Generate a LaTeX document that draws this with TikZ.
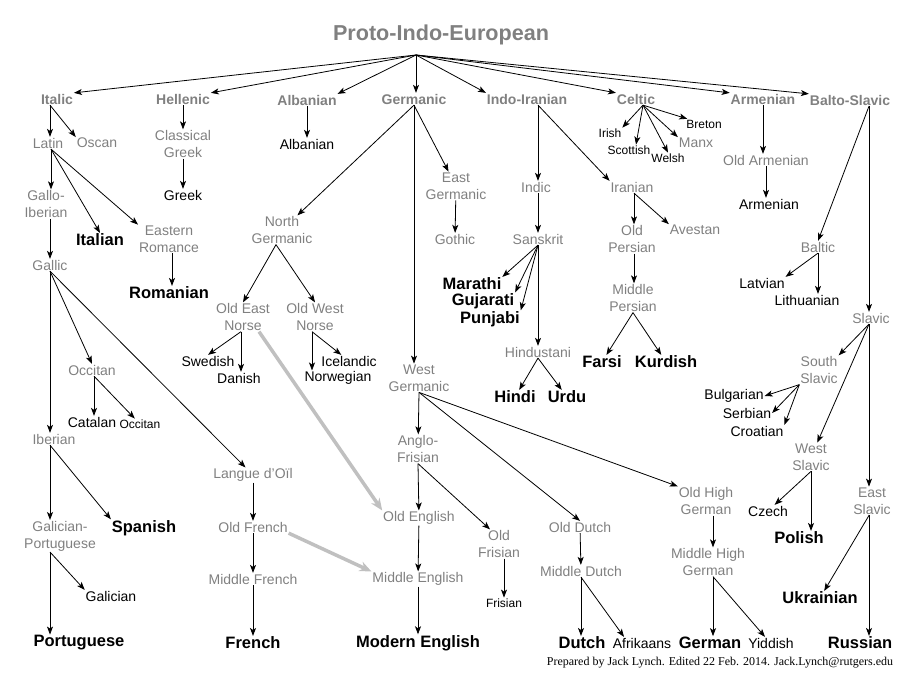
\documentclass[tikz,border=0pt]{standalone}
\usepackage{fontspec}
\setmainfont{Liberation Sans}
\newfontfamily\notefont{Liberation Serif}
\usetikzlibrary{arrows.meta}
\definecolor{branchgray}{RGB}{128,128,128}
\definecolor{loangray}{RGB}{192,192,192}

\begin{document}
\begin{tikzpicture}[x=1pt, y=-1pt, line width=0.8pt,
    >={Stealth[length=8pt,width=6pt,inset=2pt]},
    every node/.style={inner sep=1pt, outer sep=0pt, align=center},
    rootlbl/.style={text=branchgray, font=\fontsize{21.6}{26}\selectfont\bfseries},
    famlbl/.style={text=branchgray, font=\fontsize{14}{17}\selectfont\bfseries},
    sublbl/.style={text=branchgray, font=\fontsize{14}{17}\selectfont},
    langlbl/.style={font=\fontsize{14}{17}\selectfont},
    minorlbl/.style={font=\fontsize{12}{14}\selectfont},
    majorlbl/.style={font=\fontsize{16.5}{20}\selectfont\bfseries},
    loan/.style={->, color=loangray, line width=3.5pt, >={Stealth[length=12pt,width=10pt]}}]
    \useasboundingbox (0,0) rectangle (918,687);

    \node[rootlbl] (pietitle) at (441,35) {Proto-Indo-European};
    \coordinate (pie) at (416,55);

    % families
    \node[famlbl] (italic) at (57,99) {Italic};
    \node[famlbl] (hellenic) at (183,99) {Hellenic};
    \node[famlbl] (albanianb) at (307,100) {Albanian};
    \node[famlbl] (germanic) at (414,99) {Germanic};
    \node[famlbl] (indoiranian) at (527,99) {Indo-Iranian};
    \node[famlbl] (celtic) at (636,99) {Celtic};
    \node[famlbl] (armenianb) at (763,99) {Armenian};
    \node[famlbl] (baltoslavic) at (850,100) {Balto-Slavic};

    % Italic
    \node[sublbl] (latin) at (48,143) {Latin};
    \node[sublbl] (oscan) at (97,143) {Oscan};
    \node[sublbl] (galloiberian) at (46,204) {Gallo-\\Iberian};
    \node[majorlbl] (italian) at (100,240) {Italian};
    \node[sublbl] (easternromance) at (169,239) {Eastern\\Romance};
    \node[sublbl] (gallic) at (50,265) {Gallic};
    \node[majorlbl] (romanian) at (169,293) {Romanian};
    \node[sublbl] (occitanmid) at (92,370) {Occitan};
    \node[langlbl] (catalan) at (92,422) {Catalan};
    \node[minorlbl] (occitan) at (140,424) {Occitan};
    \node[sublbl] (iberian) at (54,439) {Iberian};
    \node[sublbl] (galicianport) at (60,536) {Galician-\\Portuguese};
    \node[majorlbl] (spanish) at (144,528) {Spanish};
    \node[langlbl] (galician) at (111,596) {Galician};
    \node[majorlbl] (portuguese) at (79,643) {Portuguese};
    \node[sublbl] (langue) at (253,475) {Langue d’Oïl};
    \node[sublbl] (oldfrench) at (253,527) {Old French};
    \node[sublbl] (middlefrench) at (253,579) {Middle French};
    \node[majorlbl] (french) at (253,643) {French};

    % Hellenic, Albanian
    \node[sublbl] (classicalgreek) at (183,144) {Classical\\Greek};
    \node[langlbl] (greek) at (183,195) {Greek};
    \node[langlbl] (albanian) at (307,144) {Albanian};

    % Germanic
    \node[sublbl] (northgermanic) at (282,230) {North\\Germanic};
    \node[sublbl] (eastgermanic) at (456,186) {East\\Germanic};
    \node[sublbl] (gothic) at (455,239) {Gothic};
    \node[sublbl] (oldeastnorse) at (243,317) {Old East\\Norse};
    \node[sublbl] (oldwestnorse) at (315,317) {Old West\\Norse};
    \node[langlbl] (swedish) at (208,361) {Swedish};
    \node[langlbl] (danish) at (239,378) {Danish};
    \node[langlbl] (icelandic) at (349,361) {Icelandic};
    \node[langlbl] (norwegian) at (338,378) {Norwegian};
    \node[sublbl] (westgermanic) at (419,378) {West\\Germanic};
    \node[sublbl] (anglofrisian) at (418,449) {Anglo-\\Frisian};
    \node[sublbl] (oldenglish) at (419,518) {Old English};
    \node[sublbl] (oldfrisian) at (499,544) {Old\\Frisian};
    \node[minorlbl] (frisian) at (504,603) {Frisian};
    \node[sublbl] (middleenglish) at (418,579) {Middle English};
    \node[majorlbl] (modernenglish) at (418,643) {Modern English};
    \node[sublbl] (olddutch) at (580,527) {Old Dutch};
    \node[sublbl] (middledutch) at (581,571) {Middle Dutch};
    \node[majorlbl] (dutch) at (582,643) {Dutch};
    \node[langlbl] (afrikaans) at (642,643) {Afrikaans};
    \node[sublbl] (oldhighgerman) at (706,501) {Old High\\German};
    \node[sublbl] (middlehighgerman) at (708,562) {Middle High\\German};
    \node[majorlbl] (german) at (710,643) {German};
    \node[langlbl] (yiddish) at (771,643) {Yiddish};

    % Indo-Iranian
    \node[sublbl] (indic) at (536,187) {Indic};
    \node[sublbl] (sanskrit) at (538,239) {Sanskrit};
    \node[majorlbl] (marathi) at (472,284) {Marathi};
    \node[majorlbl] (gujarati) at (483,301) {Gujarati};
    \node[majorlbl] (punjabi) at (490,319) {Punjabi};
    \node[sublbl] (hindustani) at (538,352) {Hindustani};
    \node[majorlbl] (hindi) at (515,397) {Hindi};
    \node[majorlbl] (urdu) at (567,397) {Urdu};
    \node[sublbl] (iranian) at (632,187) {Iranian};
    \node[sublbl] (oldpersian) at (632,239) {Old\\Persian};
    \node[sublbl] (avestan) at (695,230) {Avestan};
    \node[sublbl] (middlepersian) at (633,298) {Middle\\Persian};
    \node[majorlbl] (farsi) at (602,362) {Farsi};
    \node[majorlbl] (kurdish) at (666,362) {Kurdish};

    % Celtic
    \node[minorlbl] (irish) at (610,133) {Irish};
    \node[minorlbl] (scottish) at (629,150) {Scottish};
    \node[minorlbl] (welsh) at (668,158) {Welsh};
    \node[sublbl] (manx) at (696,143) {Manx};
    \node[minorlbl] (breton) at (704,124) {Breton};

    % Armenian
    \node[sublbl] (oldarmenian) at (766,160) {Old Armenian};
    \node[langlbl] (armenian) at (769,204) {Armenian};

    % Balto-Slavic
    \node[sublbl] (baltic) at (818,247) {Baltic};
    \node[langlbl] (latvian) at (762,283) {Latvian};
    \node[langlbl] (lithuanian) at (807,300) {Lithuanian};
    \node[sublbl] (slavic) at (871,318) {Slavic};
    \node[sublbl] (southslavic) at (819,370) {South\\Slavic};
    \node[langlbl] (bulgarian) at (734,396) {Bulgarian};
    \node[langlbl] (serbian) at (747,413) {Serbian};
    \node[langlbl] (croatian) at (757,431) {Croatian};
    \node[sublbl] (westslavic) at (811,457) {West\\Slavic};
    \node[langlbl] (czech) at (768,511) {Czech};
    \node[majorlbl] (polish) at (799,538) {Polish};
    \node[sublbl] (eastslavic) at (872,501) {East\\Slavic};
    \node[majorlbl] (ukrainian) at (820,598) {Ukrainian};
    \node[majorlbl] (russian) at (860,643) {Russian};

    \node[font=\notefont\fontsize{12}{14}\selectfont] (credit) at (720,663) {Prepared by Jack Lynch. Edited 22 Feb. 2014. Jack.Lynch@rutgers.edu};

    % from the root
    \path [->] (pie) edge (italic.north east) edge (hellenic.north east) edge (albanianb.north east)
        edge (pie |- germanic.north) edge (indoiranian.north west) edge (celtic.north west)
        edge (armenianb.north west) edge (baltoslavic.north west);

    % Italic
    \path [->] ([xshift=-7pt]italic.south) edge ([xshift=-7pt]italic.south |- latin.north) edge (oscan.north west);
    \path [->] ([xshift=3pt]latin.south) edge ([xshift=3pt]latin.south |- galloiberian.north) edge (italian.north) edge (easternromance.north west);
    \path [->] ([xshift=4pt]galloiberian.south) edge ([xshift=4pt]galloiberian.south |- gallic.north);
    \path [->] ([xshift=3pt]easternromance.south) edge ([xshift=3pt]easternromance.south |- romanian.north);
    \path [->] (gallic.south) edge (gallic.south |- iberian.north) edge (occitanmid.north) edge (langue);
    \path [->] ([xshift=2pt]occitanmid.south) edge ([xshift=2pt]occitanmid.south |- catalan.north) edge (occitan);
    \path [->] ([xshift=-4pt]iberian.south) edge ([xshift=-4pt]iberian.south |- galicianport.north) edge (spanish.north west);
    \path [->] ([xshift=-10pt]galicianport.south) edge ([xshift=-10pt]galicianport.south |- portuguese.north) edge (galician.north west);
    \path [->] (langue) edge (oldfrench) (oldfrench) edge (middlefrench) (middlefrench) edge (french);

    % Hellenic, Albanian
    \path [->] (hellenic) edge (classicalgreek) (classicalgreek) edge (greek);
    \path [->] (albanianb) edge (albanian);

    % Germanic
    \path [->] (germanic.south) edge (northgermanic) edge (germanic.south |- westgermanic.north) edge (eastgermanic);
    \path [->] (eastgermanic) edge (gothic);
    \path [->] ([xshift=-6pt]northgermanic.south) edge (oldeastnorse.north) edge (oldwestnorse.north);
    \path [->] ([xshift=-2pt]oldeastnorse.south) edge (swedish.north) edge ([xshift=-2pt]oldeastnorse.south |- danish.north);
    \path [->] ([xshift=-3pt]oldwestnorse.south) edge (icelandic) edge ([xshift=-3pt]oldwestnorse.south |- norwegian.north);
    \path [->] (westgermanic.south) edge (anglofrisian) edge (olddutch.north) edge (oldhighgerman.north west);
    \path [->] (anglofrisian.south) edge (oldenglish) edge ([xshift=-9pt]oldfrisian.north);
    \path [->] (frisian.north |- oldfrisian.south) edge (frisian);
    \path [->] (oldenglish) edge (middleenglish) (middleenglish) edge (modernenglish);
    \path [->] (olddutch) edge (middledutch);
    \path [->] (middledutch.south) edge (middledutch.south |- dutch.north) edge ([xshift=-18pt]afrikaans.north);
    \path [->] ([xshift=7pt]oldhighgerman.south) edge ([xshift=7pt]oldhighgerman.south |- middlehighgerman.north);
    \path [->] ([xshift=5pt]middlehighgerman.south) edge ([xshift=5pt]middlehighgerman.south |- german.north) edge ([xshift=-6pt]yiddish.north);

    % borrowings
    \path [loan] ([xshift=16pt]oldeastnorse.south) edge (oldenglish.north west);
    \path [loan] (oldfrench.south east) edge (middleenglish.north west);

    % Indo-Iranian
    \path [->] ([xshift=11pt]indoiranian.south) edge ([xshift=11pt]indoiranian.south |- indic.north) edge (iranian.north west);
    \path [->] (sanskrit.north |- indic.south) edge (sanskrit.north);
    \path [->] (sanskrit.south) edge (marathi.north east) edge (gujarati.north east) edge (punjabi.north east) edge (hindustani);
    \path [->] (hindustani.south) edge (hindi) edge (urdu);
    \path [->] ([xshift=2pt]iranian.south) edge ([xshift=2pt]iranian.south |- oldpersian.north) edge (avestan.north west);
    \path [->] ([xshift=2pt]oldpersian.south) edge ([xshift=2pt]oldpersian.south |- middlepersian.north);
    \path [->] (middlepersian.south) edge (farsi) edge (kurdish);

    % Celtic
    \path [->] ([xshift=7pt]celtic.south) edge (irish.north east) edge ([xshift=7pt]scottish.north) edge (welsh.north) edge (manx.north west) edge (breton);

    % Armenian
    \path [->] (armenianb.south) edge (armenianb.south |- oldarmenian.north);
    \path [->] (oldarmenian.south) edge (oldarmenian.south |- armenian.north);

    % Balto-Slavic
    \path [->] ([xshift=19pt]baltoslavic.south) edge (baltic.north) edge ([xshift=19pt]baltoslavic.south |- slavic.north);
    \path [->] (baltic.south) edge (latvian.north east) edge (baltic.south |- lithuanian.north);
    \path [->] ([xshift=-2pt]slavic.south) edge (southslavic.north east) edge (westslavic) edge ([xshift=-2pt]slavic.south |- eastslavic.north);
    \path [->] (southslavic.south west) edge (bulgarian.east) edge (serbian.east) edge (croatian.north east);
    \path [->] (westslavic.south) edge (czech) edge (westslavic.south |- polish.north);
    \path [->] ([xshift=-3pt]eastslavic.south) edge (ukrainian) edge ([xshift=-3pt]eastslavic.south |- russian.north);
\end{tikzpicture}
\end{document}
